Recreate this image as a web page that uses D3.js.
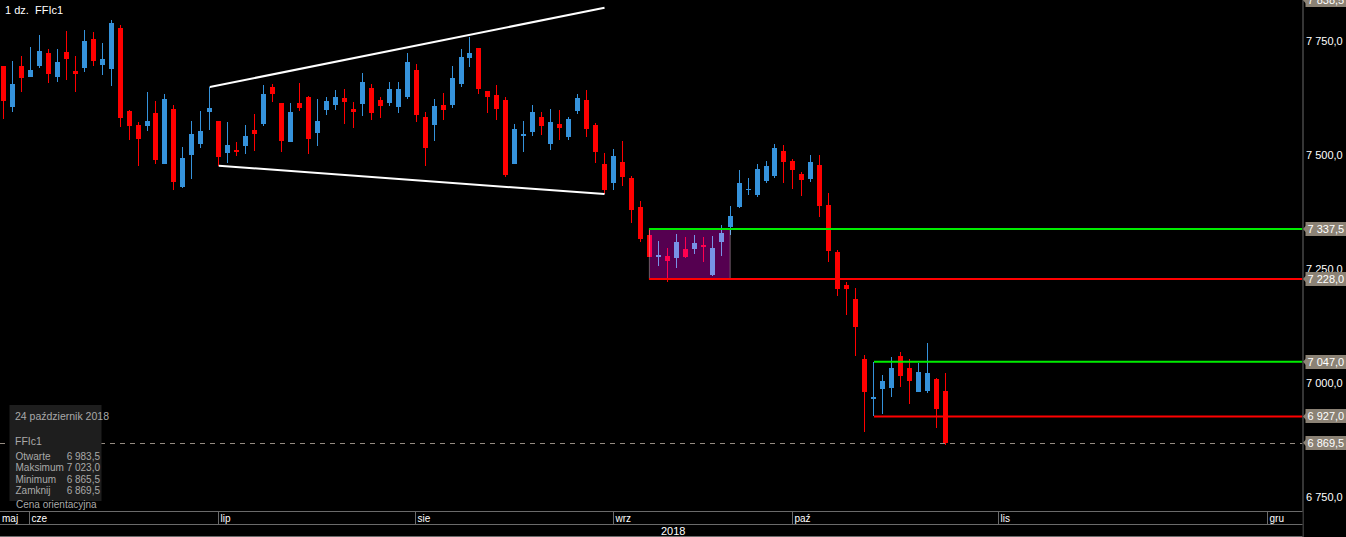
<!DOCTYPE html>
<html>
<head>
<meta charset="utf-8">
<script src="https://cdn.jsdelivr.net/npm/d3@7"></script>
<style>
  html, body { margin: 0; padding: 0; background: #000; }
  svg { display: block; }
  text { font-family: "Liberation Sans", Arial, sans-serif; }
</style>
</head>
<body>
<svg id="chart" width="1346" height="537"></svg>
<script>
// ---------- DATA ----------
const dates = [
  "2018-05-29","2018-05-30","2018-05-31",
  "2018-06-01","2018-06-04","2018-06-05","2018-06-06","2018-06-07","2018-06-08",
  "2018-06-11","2018-06-12","2018-06-13","2018-06-14","2018-06-15",
  "2018-06-18","2018-06-19","2018-06-20","2018-06-21","2018-06-22",
  "2018-06-25","2018-06-26","2018-06-27","2018-06-28","2018-06-29",
  "2018-07-02","2018-07-03","2018-07-04","2018-07-05","2018-07-06",
  "2018-07-09","2018-07-10","2018-07-11","2018-07-12","2018-07-13",
  "2018-07-16","2018-07-17","2018-07-18","2018-07-19","2018-07-20",
  "2018-07-23","2018-07-24","2018-07-25","2018-07-26","2018-07-27",
  "2018-07-30","2018-07-31",
  "2018-08-01","2018-08-02","2018-08-03",
  "2018-08-06","2018-08-07","2018-08-08","2018-08-09","2018-08-10",
  "2018-08-13","2018-08-14","2018-08-15","2018-08-16","2018-08-17",
  "2018-08-20","2018-08-21","2018-08-22","2018-08-23","2018-08-24",
  "2018-08-28","2018-08-29","2018-08-30","2018-08-31",
  "2018-09-03","2018-09-04","2018-09-05","2018-09-06","2018-09-07",
  "2018-09-10","2018-09-11","2018-09-12","2018-09-13","2018-09-14",
  "2018-09-17","2018-09-18","2018-09-19","2018-09-20","2018-09-21",
  "2018-09-24","2018-09-25","2018-09-26","2018-09-27","2018-09-28",
  "2018-10-01","2018-10-02","2018-10-03","2018-10-04","2018-10-05",
  "2018-10-08","2018-10-09","2018-10-10","2018-10-11","2018-10-12",
  "2018-10-15","2018-10-16","2018-10-17","2018-10-18","2018-10-19",
  "2018-10-22","2018-10-23","2018-10-24"
];
const openV = [
  7694.5,7605.5,7694.5,7671,7694.5,7723,7671,7725,7683.5,7690.5,
  7753.5,7696.5,7688.5,7777.5,7596,7565,7563.5,7591.5,7480.5,7600.5,
  7430,7500,7524.5,7594.5,7574,7504.5,7510.5,7520,7554.5,7568,
  7648.5,7613.5,7528.5,7613.5,7626.5,7548.5,7598,7609,7624.5,7600.5,
  7611,7646.5,7620,7614,7605.5,7627,7685.5,7583,7566,7609,
  7609.5,7655.5,7712.5,7734,7639.5,7631,7620,7480.5,7542,7550.5,
  7583,7524.5,7567.5,7539.5,7596.5,7620,7565,7480,7439,7484,
  7449,7385.5,7324.5,7277,7278.5,7274.5,7293.5,7294.5,7302.5,7237.5,
  7309.5,7342.5,7386.5,7423,7412,7442.5,7453.5,7508.5,7486.5,7458,
  7447,7477.5,7390,7287,7215,7184,7053,6966,6987.5,6990,
  7059.5,7033,6981,6983.5,7009,6983.5
];
const highV = [
  7694.5,7705.5,7716.5,7736.5,7762.5,7731.5,7731.5,7771,7716.5,7773.5,
  7769,7745.5,7795,7784,7598,7572,7637.5,7618,7633,7609,
  7517.5,7574,7596,7648.5,7574,7572,7528,7565,7589.5,7653,
  7655.5,7613.5,7613.5,7657,7629,7622,7626.5,7642,7644,7615.5,
  7679,7655,7626.5,7659.5,7659.5,7723,7699,7593.5,7622,7635.5,
  7694.5,7731.5,7758,7734,7639.5,7653,7626.5,7567.5,7574,7609,
  7593.5,7600.5,7598,7583,7633,7642,7569.5,7504,7512.5,7530,
  7453.5,7399,7337.5,7311,7296,7326.5,7320,7324.5,7320,7322,
  7346,7388,7466.5,7449,7480,7486.5,7523.5,7521.5,7491,7462.5,
  7499.5,7499.5,7416.5,7291.5,7221.5,7208.5,7061.5,7047,7017.5,7057,
  7068,7053,7044,7088,7011,7023
];
const lowV = [
  7577.5,7594.5,7638,7671,7690.5,7657,7660,7664,7638,7682,
  7695,7675.5,7651.5,7561.5,7533,7476,7553,7480.5,7480.5,7423.5,
  7428,7447.5,7515.5,7555,7476,7482.5,7498,7502.5,7509,7563.5,
  7615.5,7507,7528.5,7596.5,7502.5,7520,7587,7598,7568,7559.5,
  7585.5,7577,7581,7607.5,7592,7623,7572.5,7476,7531,7577,
  7603,7649,7693,7634,7592,7577,7452,7480.5,7507,7542,
  7544,7511,7533,7533,7590,7539.5,7482.5,7415,7423.5,7432.5,
  7351.5,7309.5,7276.5,7257,7222,7252.5,7274.5,7283.5,7266,7235,
  7279,7325,7384,7412.5,7408,7438,7450,7439,7425.5,7410.5,
  7441,7364.5,7266,7191.5,7150,7060,6893.5,6927,6932.5,6970,
  6992,6955,6981,6979,6902.5,6865.5
];
const closeV = [
  7618.5,7655,7669,7685.5,7727.5,7677.5,7703,7710,7677.5,7749,
  7705.5,7710,7788.5,7581,7563,7535,7574,7489.5,7622,7441,
  7493,7545.5,7552,7602.5,7496,7521.5,7507,7541,7546,7633,
  7634,7531,7593.5,7603,7535,7574,7618,7626.5,7616.5,7594.5,
  7659.5,7591.5,7607.5,7644,7644,7703,7588,7515.5,7607,7599,
  7668,7714,7723,7644.5,7627,7601,7456.5,7556.5,7545.5,7593.5,
  7563.5,7572,7559.5,7578.5,7624.5,7557,7507,7423.5,7497.5,7452,
  7380,7316,7277,7280.5,7267.5,7309,7277,7307,7298.5,7296,
  7328.5,7366,7438,7425,7469,7475.5,7515,7484,7466.5,7445,
  7484,7388.5,7290,7206.5,7206.5,7123.5,6981,6969.5,7004.5,7033,
  7016,7005.5,7024.5,7022,6944,6869.5
];

// price axis
const priceTicks = [7750, 7500, 7250, 7000, 6750];
const markedLevels = [7838.5, 7337.5, 7228.0, 7047.0, 6927.0, 6869.5];
const lastCloseLevel = 6869.5;

// time axis: month labels and their start positions (trading-day index; future part in calendar days)
const monthLabels = ["maj", "cze", "lip", "sie", "wrz", "paź", "lis", "gru"];
const monthStarts = [-0.39, 3, 24, 46, 68, 88, 111, 141];
const yearLabel = "2018";

// drawn trendlines (index, price)
const upperTrendIdx = [23, 67];
const upperTrendPx = [7648.5, 7822];
const lowerTrendIdx = [24, 67];
const lowerTrendPx = [7476, 7414];

// support/resistance zones
const zoneStartIdx = [72, 97];
const zoneEndIdx = [81, null];
const zoneHigh = [7337.5, 7047.0];
const zoneLow = [7228.0, 6927.0];

// info box
const infoDate = "24 październik 2018";
const infoSymbol = "FFIc1";
const infoLabels = ["Otwarte", "Maksimum", "Minimum", "Zamknij"];
const infoFooter = "Cena orientacyjna";
const titleText = "1 dz.  FFIc1";

// ---------- DRAW ----------
const W = 1346, H = 537;
const plotR = 1302.5, plotB = 511;
const svg = d3.select("#chart");
svg.append("rect").attr("width", W).attr("height", H).attr("fill", "#000");

const x = d3.scaleLinear().domain([-0.39, 144.75]).range([0, 1302]);
const y = d3.scaleLinear().domain([6720, 7839]).range([plotB, 0]);

const loc = d3.formatLocale({decimal: ",", thousands: " ", grouping: [3], currency: ["", ""]});
const fmt = loc.format(",.1f");

const candles = dates.map((d, i) => ({i, d, o: openV[i], h: highV[i], l: lowV[i], c: closeV[i]}));

const plot = svg.append("g");
plot.append("clipPath").attr("id", "clipP").append("rect").attr("x", 0).attr("y", 0).attr("width", plotR).attr("height", plotB);
const gPlot = plot.append("g").attr("clip-path", "url(#clipP)");

const BLUE = "#3592db", RED = "#ff0000";
const cg = gPlot.append("g");
candles.forEach(k => {
  const cx = Math.floor(x(k.i));
  const up = k.c >= k.o;
  const col = up ? BLUE : RED;
  const yh = Math.round(y(k.h)), yl = Math.round(y(k.l));
  cg.append("rect").attr("x", cx).attr("y", yh).attr("width", 1).attr("height", Math.max(1, yl - yh))
    .attr("fill", col).attr("shape-rendering", "crispEdges");
  const yt = Math.round(y(Math.max(k.o, k.c))), yb = Math.round(y(Math.min(k.o, k.c)));
  cg.append("rect").attr("x", cx - 2).attr("y", yt).attr("width", 5).attr("height", Math.max(1, yb - yt))
    .attr("fill", col).attr("shape-rendering", "crispEdges");
});

// zone 1 box (screen-blended purple)
{
  const x0 = x(zoneStartIdx[0]), x1 = x(zoneEndIdx[0]);
  gPlot.append("rect").attr("x", x0).attr("y", y(zoneHigh[0])).attr("width", x1 - x0)
    .attr("height", y(zoneLow[0]) - y(zoneHigh[0]))
    .attr("fill", "#550050").style("mix-blend-mode", "screen")
    .attr("stroke", "#6e5a66").attr("stroke-width", 1);
}

// zone lines
zoneStartIdx.forEach((s, j) => {
  const x0 = Math.round(x(s));
  gPlot.append("line").attr("x1", x0).attr("x2", plotR).attr("y1", y(zoneHigh[j])).attr("y2", y(zoneHigh[j]))
    .attr("stroke", "#00ee00").attr("stroke-width", 2);
  gPlot.append("line").attr("x1", x0).attr("x2", plotR).attr("y1", y(zoneLow[j])).attr("y2", y(zoneLow[j]))
    .attr("stroke", "#ff0000").attr("stroke-width", 2);
});

// trendlines
[[upperTrendIdx, upperTrendPx], [lowerTrendIdx, lowerTrendPx]].forEach(([ix, px]) => {
  gPlot.append("line").attr("x1", x(ix[0])).attr("y1", y(px[0])).attr("x2", x(ix[1])).attr("y2", y(px[1]))
    .attr("stroke", "#ffffff").attr("stroke-width", 2);
});

// last close dashed line
gPlot.append("line").attr("x1", 0).attr("x2", plotR).attr("y1", Math.round(y(lastCloseLevel)) + 0.5).attr("y2", Math.round(y(lastCloseLevel)) + 0.5)
  .attr("stroke", "#968c82").attr("stroke-width", 1).attr("stroke-dasharray", "5,5");

// title
svg.append("text").attr("x", 5).attr("y", 14).attr("fill", "#fff").attr("font-size", "11px")
  .style("white-space", "pre").text(titleText);

// info box
const last = candles[candles.length - 1];
const ib = svg.append("g");
ib.append("rect").attr("x", 9.5).attr("y", 405).attr("width", 92).attr("height", 96).attr("fill", "#1e1e1e");
const infoCol = "#a9a9a9";
ib.append("text").attr("x", 15).attr("y", 420).attr("fill", infoCol).attr("font-size", "10.5px").text(infoDate);
ib.append("text").attr("x", 15).attr("y", 445).attr("fill", infoCol).attr("font-size", "10.5px").text(infoSymbol);
const infoVals = [last.o, last.h, last.l, last.c];
infoLabels.forEach((lab, j) => {
  const yy = 460 + j * 11.3;
  ib.append("text").attr("x", 15.5).attr("y", yy).attr("fill", infoCol).attr("font-size", "10px").text(lab);
  ib.append("text").attr("x", 100).attr("y", yy).attr("text-anchor", "end").attr("fill", infoCol).attr("font-size", "10px").text(fmt(infoVals[j]));
});
ib.append("text").attr("x", 16).attr("y", 508).attr("fill", infoCol).attr("font-size", "10px").text(infoFooter);

// right price axis
const ax = svg.append("g");
ax.append("rect").attr("x", plotR + 0.5).attr("y", 0).attr("width", W - plotR).attr("height", H).attr("fill", "#000");
ax.append("line").attr("x1", plotR + 0.5).attr("x2", plotR + 0.5).attr("y1", 0).attr("y2", H).attr("stroke", "#6a6a6a");
priceTicks.forEach(v => {
  ax.append("text").attr("x", 1306).attr("y", y(v) + 4).attr("fill", "#fff").attr("font-size", "11px").text(fmt(v));
});
markedLevels.forEach(v => {
  const yy = y(v);
  ax.append("path").attr("d", `M${plotR + 0.5},${yy} L${plotR + 4},${yy - 4} L${plotR + 4},${yy + 4} Z`).attr("fill", "#8b8275");
  ax.append("rect").attr("x", 1305.5).attr("y", Math.round(yy) - 7).attr("width", 41).attr("height", 14).attr("fill", "#8b8275");
  ax.append("text").attr("x", 1307.5).attr("y", Math.round(yy) + 4).attr("fill", "#fff").attr("font-size", "11px").text(fmt(v));
});

// bottom time axis
const tx = svg.append("g");
tx.append("rect").attr("x", 0).attr("y", plotB + 0.5).attr("width", plotR).attr("height", H - plotB).attr("fill", "#000");
[511.5, 524.5, 536.5].forEach(yy => {
  tx.append("line").attr("x1", 0).attr("x2", plotR).attr("y1", yy).attr("y2", yy).attr("stroke", "#6a6a6a");
});
monthLabels.forEach((m, j) => {
  const xl = Math.max(0, Math.round(x(monthStarts[j])) - 1) + 0.5;
  if (j > 0) tx.append("line").attr("x1", xl).attr("x2", xl).attr("y1", 511.5).attr("y2", 524.5).attr("stroke", "#6a6a6a");
  tx.append("text").attr("x", (j > 0 ? xl + 2 : 2)).attr("y", 522).attr("fill", "#fff").attr("font-size", "10px").text(m);
});
tx.append("text").attr("x", 661).attr("y", 535).attr("fill", "#fff").attr("font-size", "11px").text(yearLabel);
</script>
</body>
</html>
